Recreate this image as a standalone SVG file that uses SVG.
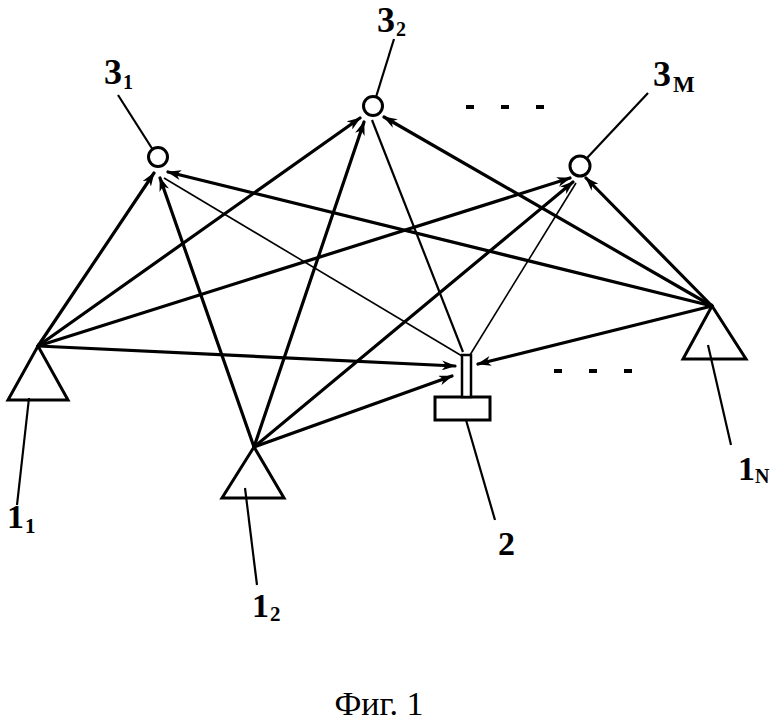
<svg xmlns="http://www.w3.org/2000/svg" width="780" height="723" viewBox="0 0 780 723">
<style>
.thick{stroke:#000;stroke-width:3.2;fill:none;stroke-linecap:round}
.thin{stroke:#000;stroke-width:1.6;fill:none}
.lead{stroke:#000;stroke-width:2.2;fill:none}
.shape{stroke:#000;stroke-width:3;fill:#fff}
.lbl{font-family:"Liberation Serif",serif;font-weight:bold;fill:#000}
.dash{stroke:#000;stroke-width:4}
</style>
<defs>
<marker id="arr" markerUnits="userSpaceOnUse" markerWidth="14" markerHeight="10" refX="13" refY="5" orient="auto">
<path d="M0,0 L14,5 L0,10 L4,5 z" fill="#000"/>
</marker>
</defs>
<rect width="780" height="723" fill="#fff"/>
<g id="connectors">
<line class="thick" x1="38" y1="346" x2="154" y2="173" marker-end="url(#arr)"/>
<line class="thick" x1="38" y1="346" x2="360" y2="118" marker-end="url(#arr)"/>
<line class="thick" x1="38" y1="346" x2="570" y2="178" marker-end="url(#arr)"/>
<line class="thick" x1="38" y1="346" x2="455" y2="366" marker-end="url(#arr)"/>
<line class="thick" x1="254" y1="447" x2="160" y2="178" marker-end="url(#arr)"/>
<line class="thick" x1="254" y1="447" x2="364" y2="122" marker-end="url(#arr)"/>
<line class="thick" x1="254" y1="447" x2="573" y2="182" marker-end="url(#arr)"/>
<line class="thick" x1="254" y1="447" x2="452" y2="376" marker-end="url(#arr)"/>
<line class="thick" x1="712" y1="306" x2="168" y2="172" marker-end="url(#arr)"/>
<line class="thick" x1="712" y1="306" x2="384" y2="117" marker-end="url(#arr)"/>
<line class="thick" x1="712" y1="306" x2="586" y2="178" marker-end="url(#arr)"/>
<line class="thick" x1="712" y1="306" x2="478" y2="364" marker-end="url(#arr)"/>
<line class="thin" x1="164" y1="178" x2="462" y2="356"/>
<line class="thin" x1="372" y1="120" x2="463" y2="352" style="stroke-width:2.2"/>
<line class="thin" x1="576" y1="183" x2="470" y2="355"/>
</g>
<g id="node-3-1">
<circle class="shape" cx="158" cy="157" r="9.5"/>
<line class="lead" x1="118" y1="95" x2="153" y2="150"/>
<text class="lbl" x="104" y="84" font-size="36">3</text>
<text class="lbl" x="123" y="89" font-size="20">1</text>
</g>
<g id="node-3-2">
<circle class="shape" cx="373" cy="106" r="9.5"/>
<line class="lead" x1="394" y1="39" x2="376" y2="97"/>
<text class="lbl" x="377" y="32" font-size="36">3</text>
<text class="lbl" x="396" y="36" font-size="20">2</text>
</g>
<g id="node-3-M">
<circle class="shape" cx="580" cy="166" r="10"/>
<line class="lead" x1="648" y1="93" x2="587" y2="158"/>
<text class="lbl" x="653" y="86" font-size="36">3</text>
<text class="lbl" x="673" y="92" font-size="23">M</text>
</g>
<g id="node-1-1">
<polygon class="shape" points="38,346 8,400 68,400"/>
<line class="lead" x1="29" y1="398" x2="17" y2="505"/>
<text class="lbl" x="7" y="528" font-size="34">1</text>
<text class="lbl" x="25" y="533" font-size="21">1</text>
</g>
<g id="node-1-2">
<polygon class="shape" points="254,447 222,498 284,498"/>
<line class="lead" x1="245" y1="488" x2="257" y2="585"/>
<text class="lbl" x="252" y="617" font-size="34">1</text>
<text class="lbl" x="270" y="621" font-size="21">2</text>
</g>
<g id="node-1-N">
<polygon class="shape" points="712,306 683,359 746,359"/>
<line class="lead" x1="708" y1="345" x2="731" y2="445"/>
<text class="lbl" x="738" y="480" font-size="34">1</text>
<text class="lbl" x="755" y="483" font-size="20">N</text>
</g>
<g id="node-2">
<rect class="shape" x="435" y="397" width="55" height="23"/>
<rect x="462" y="355" width="9" height="42" fill="#fff" stroke="#000" stroke-width="2.5"/>
<line class="lead" x1="466" y1="420" x2="495" y2="520"/>
<text class="lbl" x="498" y="555" font-size="34">2</text>
</g>
<g id="ellipsis">
<line class="dash" x1="466" y1="107" x2="474" y2="107"/>
<line class="dash" x1="501" y1="107" x2="509" y2="107"/>
<line class="dash" x1="536" y1="107" x2="544" y2="107"/>
<line class="dash" x1="554" y1="371" x2="562" y2="371"/>
<line class="dash" x1="589" y1="371" x2="597" y2="371"/>
<line class="dash" x1="624" y1="371" x2="632" y2="371"/>
</g>
<text x="379" y="715" font-family="Liberation Serif,serif" font-size="34" text-anchor="middle" fill="#000">Фиг. 1</text>
</svg>
